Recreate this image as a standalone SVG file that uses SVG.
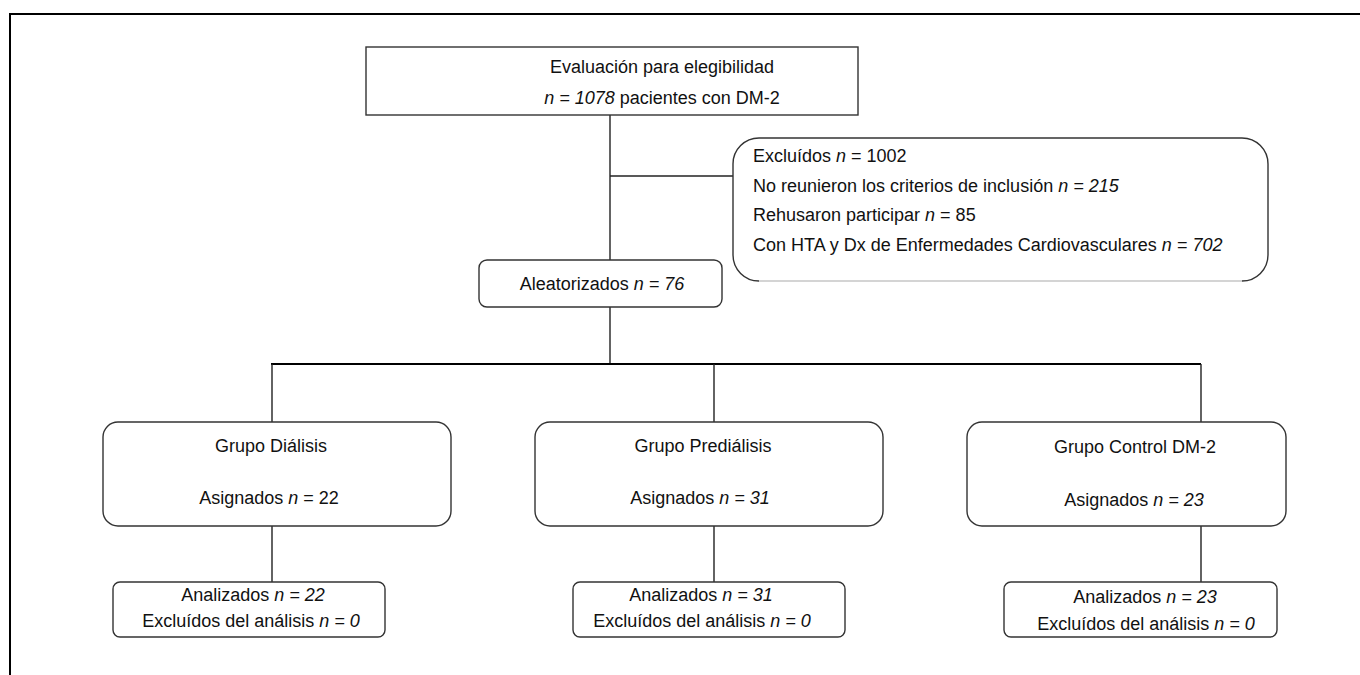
<svg xmlns="http://www.w3.org/2000/svg" width="1360" height="675" viewBox="0 0 1360 675">
<style>
.box{fill:#fff;stroke:#333;stroke-width:1.4}
.ln{fill:none;stroke:#222;stroke-width:1.4}
.thick{fill:none;stroke:#000;stroke-width:2}
text{font-family:"Liberation Sans",Arial,sans-serif;font-size:18px;fill:#111}
.c{text-anchor:middle}
.i{font-style:italic}
</style>
<rect width="1360" height="675" fill="#fff"/>
<path class="thick" d="M10,675 V14 H1360"/>
<g id="connectors">
<path class="ln" d="M610,115 V260"/>
<path class="ln" d="M610,176 H734"/>
<path class="ln" d="M610,307 V364"/>
<path class="thick" d="M271,364 H1201"/>
<path class="ln" d="M272,364 V422"/>
<path class="ln" d="M714,364 V422"/>
<path class="ln" d="M1201,364 V422"/>
<path class="ln" d="M272,526 V582"/>
<path class="ln" d="M714,526 V582"/>
<path class="ln" d="M1201,526 V582"/>
</g>
<g id="eval">
<rect class="box" x="366" y="47" width="492" height="68"/>
<text class="c" x="662" y="73">Evaluación para elegibilidad</text>
<text class="c" x="662" y="104"><tspan class="i">n = 1078</tspan> pacientes con DM-2</text>
</g>
<g id="excluidos">
<rect x="733" y="138" width="535" height="143" rx="26" fill="#fff" stroke="none"/>
<path class="box" fill="none" d="M759,281 A26,26 0 0 1 733,255 V164 A26,26 0 0 1 759,138 H1242 A26,26 0 0 1 1268,164 V255 A26,26 0 0 1 1242,281"/>
<path fill="none" stroke="#aaa" stroke-width="1.2" d="M759,281 H1242"/>
<text x="753" y="162">Excluídos  <tspan class="i">n</tspan> = 1002</text>
<text x="753" y="192">No reunieron los criterios de inclusión  <tspan class="i">n = 215</tspan></text>
<text x="753" y="221">Rehusaron participar <tspan class="i">n</tspan> = 85</text>
<text x="753" y="251">Con HTA y Dx de Enfermedades Cardiovasculares  <tspan class="i">n = 702</tspan></text>
</g>
<g id="aleatorizados">
<rect class="box" x="479" y="260" width="243" height="47" rx="8"/>
<text class="c" x="602" y="290">Aleatorizados <tspan class="i">n = 76</tspan></text>
</g>
<g id="dialisis">
<rect class="box" x="103" y="422" width="348" height="104" rx="15"/>
<text class="c" x="271" y="452">Grupo Diálisis</text>
<text class="c" x="269" y="504">Asignados  <tspan class="i">n</tspan> = 22</text>
</g>
<g id="predialisis">
<rect class="box" x="535" y="422" width="348" height="104" rx="15"/>
<text class="c" x="703" y="452">Grupo Prediálisis</text>
<text class="c" x="700" y="504">Asignados <tspan class="i">n = 31</tspan></text>
</g>
<g id="control">
<rect class="box" x="967" y="422" width="319" height="104" rx="15"/>
<text class="c" x="1135" y="453">Grupo Control DM-2</text>
<text class="c" x="1134" y="506">Asignados <tspan class="i">n = 23</tspan></text>
</g>
<g id="analizados-dialisis">
<rect class="box" x="113" y="582" width="272" height="55" rx="7"/>
<text class="c" x="253" y="601">Analizados <tspan class="i">n = 22</tspan></text>
<text class="c" x="251" y="627">Excluídos del análisis <tspan class="i">n = 0</tspan></text>
</g>
<g id="analizados-predialisis">
<rect class="box" x="573" y="582" width="272" height="55" rx="7"/>
<text class="c" x="701" y="601">Analizados <tspan class="i">n = 31</tspan></text>
<text class="c" x="702" y="627">Excluídos del análisis <tspan class="i">n = 0</tspan></text>
</g>
<g id="analizados-control">
<rect class="box" x="1004" y="582" width="273" height="55" rx="7"/>
<text class="c" x="1145" y="603">Analizados <tspan class="i">n = 23</tspan></text>
<text class="c" x="1146" y="630">Excluídos del análisis <tspan class="i">n = 0</tspan></text>
</g>
</svg>
